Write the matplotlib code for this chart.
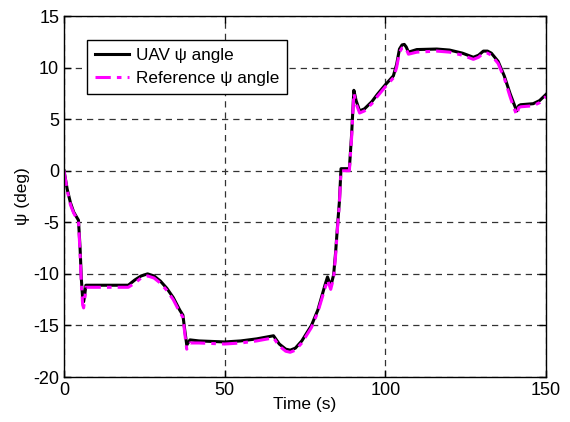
import matplotlib
matplotlib.use("Agg")
import matplotlib.pyplot as plt

plt.rcParams['font.family'] = ['Liberation Sans', 'DejaVu Sans']
plt.rcParams['axes.unicode_minus'] = False

# UAV psi angle
t_uav = [0, 1, 2, 3, 4.5, 5.0, 5.4, 5.8, 6.1, 6.4, 6.8, 10, 20, 22, 24, 26, 28, 30,
         32, 34, 36, 37, 37.6, 38.2, 39.2, 42, 50, 55, 60, 65.2, 67, 69, 70.4,
         72, 74, 77, 79, 81.3, 82, 83, 83.9, 84.5, 85.2, 85.7, 86.2, 86.4, 88.8,
         89.5, 90.2, 90.9, 92.0, 93.5, 95.8, 97.5, 99.9, 102.5, 103.5, 104.4,
         105.2, 105.9, 106.5, 107.2, 109.8, 116, 120, 124, 127.4, 129, 130.5,
         131.8, 133, 135.1, 137, 138.8, 140, 140.9, 141.5, 142.1, 146, 148, 150]
psi_uav = [0, -1.8, -3.1, -4.0, -4.8, -7.5, -10.5, -12.4, -12.7, -12.2, -11.1,
           -11.1, -11.1, -10.6, -10.2, -10.0, -10.2, -10.7, -11.4, -12.3, -13.5,
           -14.0, -15.5, -16.9, -16.4, -16.5, -16.6, -16.5, -16.3, -16.0, -16.8,
           -17.3, -17.4, -17.2, -16.5, -15.0, -13.5, -11.0, -10.3, -11.2, -10.1,
           -8.0, -5.0, -3.0, 0.2, 0.2, 0.2, 3.5, 7.8, 6.8, 5.8, 6.0, 6.7, 7.4,
           8.3, 9.2, 10.3, 11.8, 12.2, 12.25, 12.0, 11.5, 11.75, 11.8, 11.7,
           11.4, 11.0, 11.2, 11.6, 11.6, 11.4, 10.6, 9.2, 7.5, 6.5, 5.8, 6.3,
           6.4, 6.5, 6.8, 7.4]

# Reference psi angle
t_ref = t_uav
psi_ref = [0, -1.9, -3.3, -4.1, -4.9, -8.0, -11.0, -13.0, -13.3, -12.6, -11.3,
           -11.3, -11.3, -10.9, -10.4, -10.2, -10.4, -10.9, -11.6, -12.5, -13.7,
           -14.2, -15.8, -17.3, -16.7, -16.7, -16.8, -16.7, -16.5, -16.2, -17.0,
           -17.5, -17.6, -17.4, -16.7, -15.2, -13.7, -11.3, -10.6, -11.5, -10.4,
           -8.3, -5.2, -3.2, 0.0, 0.0, 0.0, 3.2, 7.5, 6.5, 5.6, 5.8, 6.5, 7.2,
           8.1, 9.0, 10.0, 11.5, 11.9, 12.0, 11.8, 11.3, 11.5, 11.6, 11.5,
           11.2, 10.8, 11.0, 11.4, 11.4, 11.2, 10.4, 9.0, 7.2, 6.1, 5.4, 6.1,
           6.2, 6.3, 6.6, 7.2]

fig = plt.figure(figsize=(5.7, 4.22), dpi=100)
ax = fig.add_axes([0.1123, 0.1066, 0.8456, 0.8554])

ax.plot(t_uav, psi_uav, color='black', lw=2.2, label='UAV \u03c8 angle')
ax.plot(t_ref, psi_ref, color='#ff00ff', lw=2.2, ls='-.', dashes=(5, 2, 1.5, 2),
        label='Reference \u03c8 angle')

ax.set_xlim(0, 150)
ax.set_ylim(-20, 15)
ax.set_xticks([0, 50, 100, 150])
ax.set_yticks([-20, -15, -10, -5, 0, 5, 10, 15])
ax.grid(True, color='#333333', ls=(0, (5, 4)), lw=0.9)
ax.tick_params(direction='in', labelsize=13, length=5, top=True, right=True,
               width=1)
for s in ax.spines.values():
    s.set_linewidth(1.0)
ax.set_xlabel('Time (s)', fontsize=12.5, labelpad=-1)
ax.set_ylabel('\u03c8 (deg)', fontsize=12.5, labelpad=2)

leg = ax.legend(loc='upper left', bbox_to_anchor=(0.048, 0.933), fontsize=12.3,
                fancybox=False, edgecolor='black', framealpha=1,
                handlelength=2.0, handletextpad=0.4, borderpad=0.45,
                labelspacing=0.5, borderaxespad=0)
leg.get_frame().set_linewidth(1.0)

fig.savefig('out.png', dpi=100)
